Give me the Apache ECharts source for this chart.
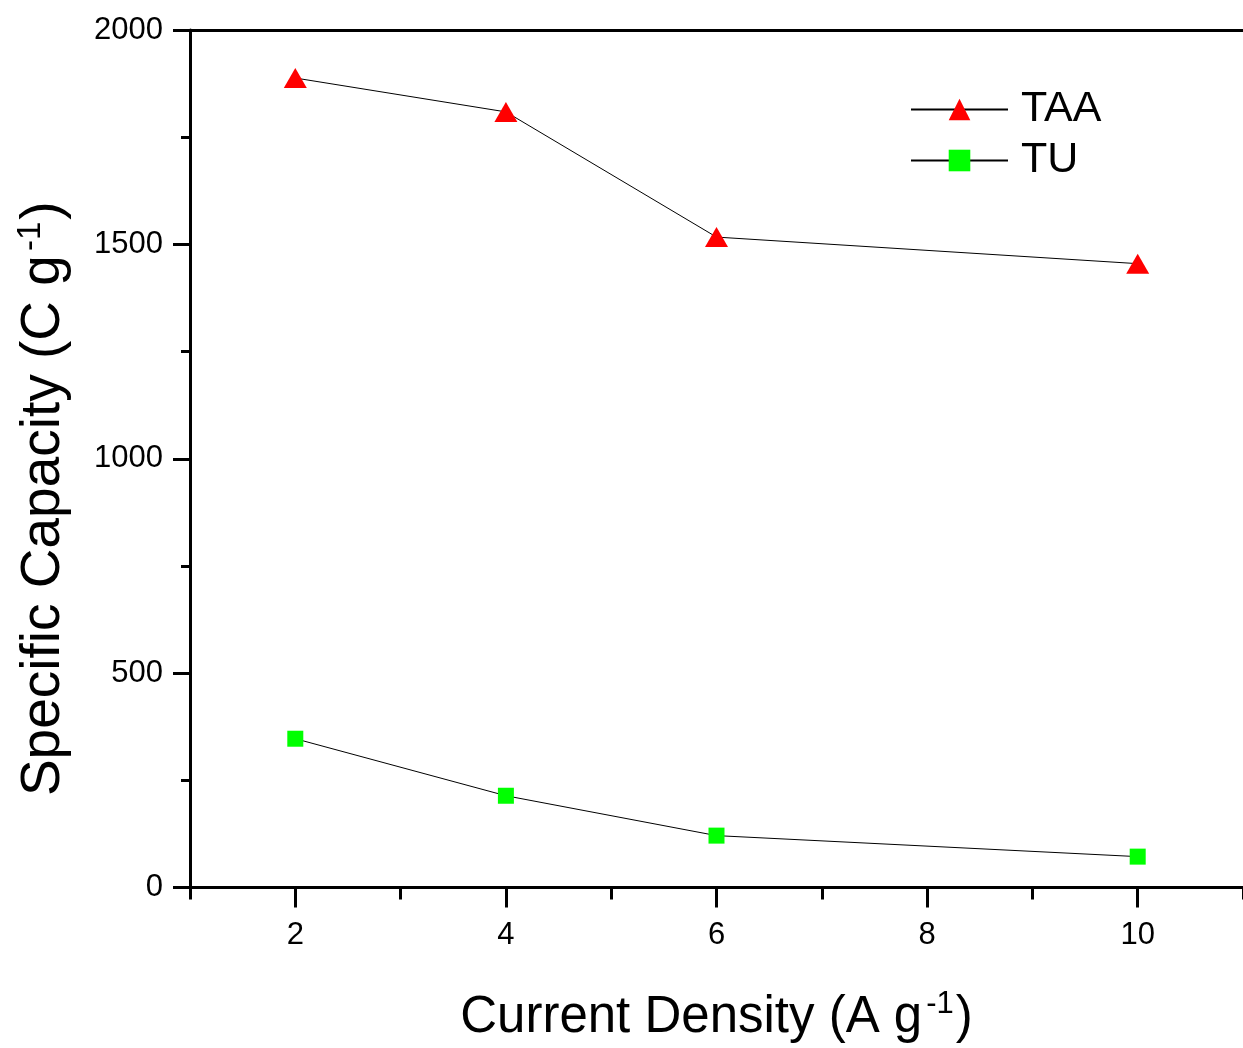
<!DOCTYPE html>
<html><head><meta charset="utf-8">
<script src="https://cdn.jsdelivr.net/npm/echarts@6/dist/echarts.min.js"></script>
<style>html,body{margin:0;padding:0;background:#fff}#c{width:1243px;height:1048px}</style>
</head><body><div id="c"></div>
<script>
// ---- data ----
const currentDensity = [2, 4, 6, 10];
const taaCapacity = [1888, 1809, 1517, 1455];
const tuCapacity = [347, 214, 121, 72];
const seriesNames = ['TAA', 'TU'];
const xMajorTicks = [2, 4, 6, 8, 10];
const xMinorTicks = [1, 3, 5, 7, 9, 11];

const FONT = "'Liberation Sans', Arial, sans-serif";
const chart = echarts.init(document.getElementById('c'), null, {renderer: 'canvas'});

const option = {
  backgroundColor: '#fff',
  animation: false,
  grid: {left: 190, top: 30, width: 1056, height: 858},
  legend: {
    orient: 'vertical', left: 910, top: 88, padding: 0,
    itemWidth: 97, itemHeight: 27, itemGap: 8,
    textStyle: {fontFamily: FONT, fontSize: 43, color: '#000', padding: [0, 0, 0, 8]},
    data: seriesNames
  },
  xAxis: [{
    type: 'value', min: 1, max: 11, position: 'bottom',
    name: '{a|Current Density (A g}{s|-1}{a|)}',
    nameLocation: 'middle', nameGap: 101,
    nameTextStyle: {rich: {
      a: {fontFamily: FONT, fontSize: 51, color: '#000', lineHeight: 58},
      s: {fontFamily: FONT, fontSize: 31, color: '#000', verticalAlign: 'top', lineHeight: 58, padding: [0, 2, 0, 4]}
    }},
    axisLine: {show: true, onZero: false, lineStyle: {color: '#000', width: 3}},
    axisTick: {show: true, inside: false, length: 20, customValues: xMajorTicks, lineStyle: {color: '#000', width: 3}},
    axisLabel: {customValues: xMajorTicks, margin: 32, fontFamily: FONT, fontSize: 31, color: '#000'},
    splitLine: {show: false}
  }, {
    type: 'value', min: 1, max: 11, position: 'bottom',
    axisLine: {show: false},
    axisTick: {show: true, inside: false, length: 12, customValues: xMinorTicks, lineStyle: {color: '#000', width: 3}},
    axisLabel: {show: false},
    splitLine: {show: false}
  }, {
    type: 'value', min: 1, max: 11, position: 'top',
    axisLine: {show: true, onZero: false, lineStyle: {color: '#000', width: 3}},
    axisTick: {show: false}, axisLabel: {show: false}, splitLine: {show: false}
  }],
  yAxis: {
    type: 'value', min: 0, max: 2000, interval: 500,
    name: '{a|Specific Capacity (C g}{s|-1}{a|)}',
    nameLocation: 'middle', nameGap: 116, nameRotate: 90,
    nameTextStyle: {padding: [0, 80, 0, 0], rich: {
      a: {fontFamily: FONT, fontSize: 55, color: '#000', lineHeight: 60},
      s: {fontFamily: FONT, fontSize: 33, color: '#000', verticalAlign: 'top', lineHeight: 60, padding: [0, 2, 0, 4]}
    }},
    axisLine: {show: true, onZero: false, lineStyle: {color: '#000', width: 3}},
    axisTick: {show: true, inside: false, length: 17, lineStyle: {color: '#000', width: 3}},
    minorTick: {show: true, splitNumber: 2, length: 9, lineStyle: {color: '#000', width: 3}},
    axisLabel: {margin: 27, fontFamily: FONT, fontSize: 31, color: '#000',
      formatter: v => String(v)},
    splitLine: {show: false}
  },
  series: [{
    name: seriesNames[0], type: 'line', xAxisIndex: 0,
    data: currentDensity.map((x, i) => [x, taaCapacity[i]]),
    symbol: 'triangle', symbolSize: [23, 20],
    itemStyle: {color: '#ff0000'},
    lineStyle: {color: '#000', width: 1}
  }, {
    name: seriesNames[1], type: 'line', xAxisIndex: 0,
    data: currentDensity.map((x, i) => [x, tuCapacity[i]]),
    symbol: 'rect', symbolSize: 16,
    itemStyle: {color: '#00ff00'},
    lineStyle: {color: '#000', width: 1}
  }]
};
chart.setOption(option);
</script></body></html>
